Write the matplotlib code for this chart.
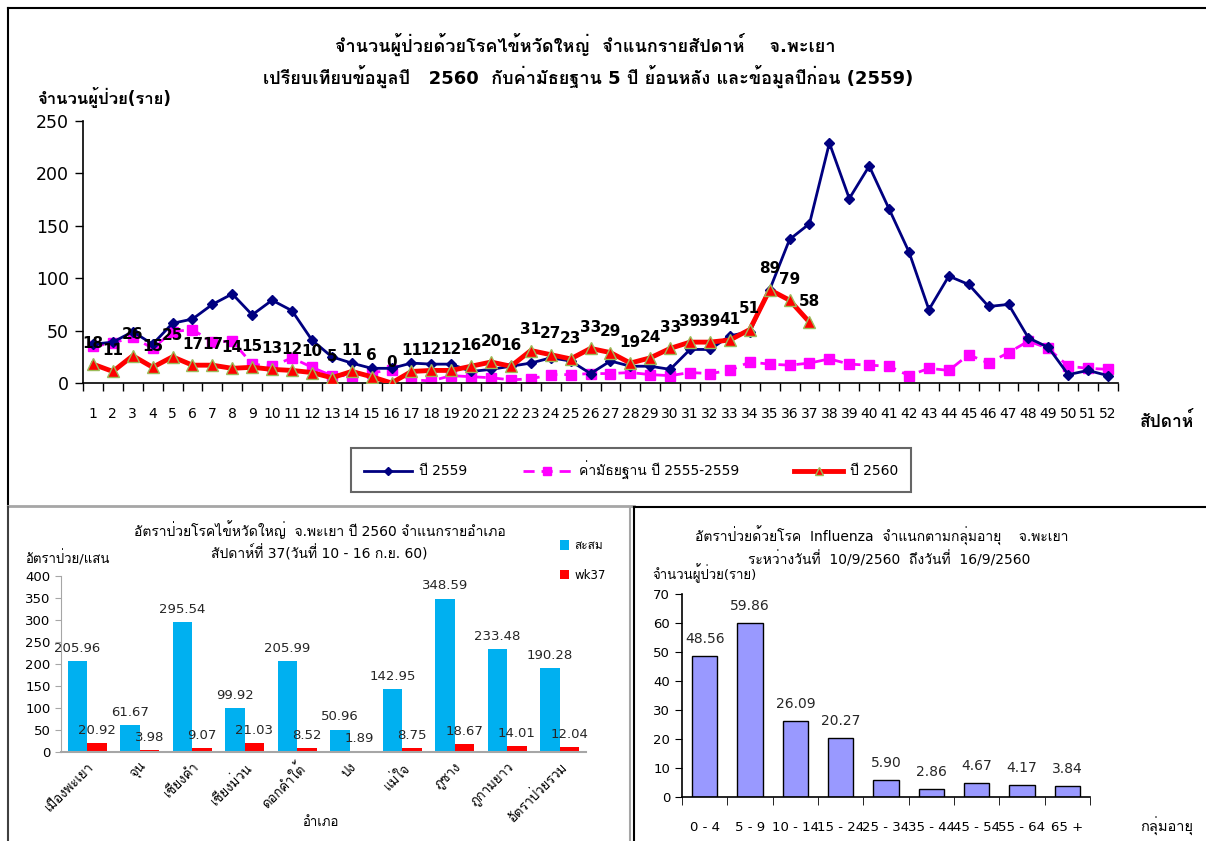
import matplotlib
matplotlib.use('Agg')
import matplotlib.pyplot as plt
from matplotlib.lines import Line2D
import numpy as np

plt.rcParams['font.family'] = ['DejaVu Sans', 'Loma']

# --- top chart: weekly cases ---
weeks = list(range(1, 53))
y2559 = [37, 39, 49, 37, 57, 61, 75, 85, 65, 79, 69, 41, 25, 19, 14, 14,
         19, 18, 18, 11, 13, 16, 19, 24, 21, 9, 21, 16, 16, 13, 32, 32, 45, 49, 89, 137,
         152, 229, 176, 207, 166, 125, 70, 102, 94, 73, 75, 43, 34, 8, 12, 7]
median = [35, 38, 44, 33, 49, 51, 39, 40, 18, 16, 24, 15, 7, 7, 10, 12,
          3, 2, 7, 6, 5, 3, 4, 8, 8, 9, 9, 10, 8, 7, 10, 9, 12, 20, 18, 17,
          19, 23, 18, 17, 16, 7, 14, 12, 27, 19, 29, 40, 33, 16, 14, 13]
y2560 = [18, 11, 26, 15, 25, 17, 17, 14, 15, 13, 12, 10, 5, 11, 6, 0,
         11, 12, 12, 16, 20, 16, 31, 27, 23, 33, 29, 19, 24, 33, 39, 39, 41, 51, 89, 79, 58]

# --- bottom left: rate by district ---
districts = ['เมืองพะเยา', 'จุน', 'เชียงคำ', 'เชียงม่วน', 'ดอกคำใต้', 'ปง', 'แม่ใจ',
             'ภูซาง', 'ภูกามยาว', 'อัตราป่วยรวม']
cumulative = [205.96, 61.67, 295.54, 99.92, 205.99, 50.96, 142.95, 348.59, 233.48, 190.28]
wk37 = [20.92, 3.98, 9.07, 21.03, 8.52, 1.89, 8.75, 18.67, 14.01, 12.04]

# --- bottom right: by age group ---
age_groups = ['0 - 4', '5 - 9', '10 - 14', '15 - 24', '25 - 34', '35 - 44', '45 - 54', '55 - 64', '65 +']
age_rate = [48.56, 59.86, 26.09, 20.27, 5.90, 2.86, 4.67, 4.17, 3.84]

W, H = 1206, 841
fig = plt.figure(figsize=(W / 100, H / 100), dpi=100)


def fx(px):
    return px / W


def fy(py):
    return 1 - py / H


def box(x0, y0, x1, y1):
    return [fx(x0), fy(y1), fx(x1) - fx(x0), fy(y0) - fy(y1)]


# panel borders
def hline(y, x0, x1, c='black', lw=1.5):
    fig.add_artist(Line2D([fx(x0), fx(x1)], [fy(y), fy(y)], color=c, lw=lw))


def vline(x, y0, y1, c='black', lw=1.5):
    fig.add_artist(Line2D([fx(x), fx(x)], [fy(y0), fy(y1)], color=c, lw=lw))


hline(8, 8, 1206)
vline(8, 8, 506)
hline(506, 8, 634, c='#a6a6a6', lw=2)
hline(507, 634, 1206)
vline(8, 507, 841, c='#404040')
vline(630, 507, 841, c='#a6a6a6')
vline(634, 507, 841)

# ================= top chart =================
ax = fig.add_axes(box(83, 121, 1118, 383))
ax.plot(weeks, y2559, color='#000080', lw=2, marker='D', ms=5, label='ปี 2559', zorder=3)
ax.plot(weeks, median, color='#ff00ff', lw=2, ls=(0, (4, 2.5)), marker='s', ms=7,
        label='ค่ามัธยฐาน ปี 2555-2559', zorder=2)
ax.plot(weeks[:len(y2560)], y2560, color='#ff0000', lw=3.5, marker='^', ms=8,
        markerfacecolor='#ff0000', markeredgecolor='#9bbb59', markeredgewidth=1,
        label='ปี 2560', zorder=4)
for w, v in zip(weeks, y2560):
    ax.annotate(str(v), (w, v), xytext=(0, 15), textcoords='offset points',
                ha='center', va='center', fontsize=11, fontweight='bold', zorder=5)

ax.set_xlim(0.5, 52.5)
ax.set_ylim(0, 250)
ax.set_yticks(range(0, 251, 50))
ax.set_xticks(weeks)
ax.set_xticks(np.arange(0.5, 53, 1), minor=True)
ax.tick_params(axis='x', which='major', length=0, pad=17, labelsize=10)
ax.tick_params(axis='x', which='minor', length=6, direction='out', width=1)
ax.tick_params(axis='y', length=6, width=1, labelsize=12.5, pad=4)
for s in ['top', 'right']:
    ax.spines[s].set_visible(False)
ax.spines['left'].set_linewidth(1.2)
ax.spines['bottom'].set_linewidth(1.2)

fig.text(fx(585), fy(44), 'จำนวนผู้ป่วยด้วยโรคไข้หวัดใหญ่  จำแนกรายสัปดาห์    จ.พะเยา',
         ha='center', va='center', fontsize=13, fontweight='bold')
fig.text(fx(588), fy(76), 'เปรียบเทียบข้อมูลปี   2560  กับค่ามัธยฐาน 5 ปี ย้อนหลัง และข้อมูลปีก่อน (2559)',
         ha='center', va='center', fontsize=13, fontweight='bold')
fig.text(fx(37), fy(97), 'จำนวนผู้ป่วย(ราย)', ha='left', va='center', fontsize=12, fontweight='bold')
fig.text(fx(1140), fy(422), 'สัปดาห์', ha='left', va='center', fontsize=12.5, fontweight='bold')

leg = fig.legend(loc='center', bbox_to_anchor=(fx(631), fy(470)), ncol=3, fontsize=10,
                 frameon=True, fancybox=False, numpoints=1, handlelength=3.5,
                 columnspacing=4, borderpad=0.9, handletextpad=0.5, markerscale=0.8)
leg.get_frame().set_edgecolor('#404040')
leg.get_frame().set_linewidth(1.5)

# ================= bottom left =================
ax2 = fig.add_axes(box(61, 576, 586, 752))
x = np.arange(len(districts))
bw = 0.37
ax2.bar(x - bw / 2, cumulative, bw, color='#00b0f0', label='สะสม')
ax2.bar(x + bw / 2, wk37, bw, color='#ff0000', label='wk37')
for i, (a, b) in enumerate(zip(cumulative, wk37)):
    ax2.text(i - bw / 2, a + 14, f'{a:.2f}', ha='center', va='bottom', fontsize=9.5, color='#262626')
    ax2.text(i + bw / 2, b + 14, f'{b:.2f}', ha='center', va='bottom', fontsize=9.5, color='#262626')
ax2.set_xlim(-0.5, len(districts) - 0.5)
ax2.set_ylim(0, 400)
ax2.set_yticks(range(0, 401, 50))
ax2.set_xticks(x)
ax2.set_xticklabels(districts, rotation=45, ha='right', rotation_mode='anchor', fontsize=9.5)
ax2.tick_params(axis='x', length=0, pad=6)
ax2.tick_params(axis='y', length=4, color='#a6a6a6', labelsize=9.5)
for s in ['top', 'right']:
    ax2.spines[s].set_visible(False)
ax2.spines['left'].set_color('#a6a6a6')
ax2.spines['bottom'].set_color('#a6a6a6')
ax2.spines['bottom'].set_linewidth(1.5)
ax2.legend(loc='upper left', bbox_to_anchor=(0.93, 1.27), frameon=False, fontsize=8.5,
           handlelength=0.8, handleheight=0.8, labelspacing=1.4, handletextpad=0.4)
fig.text(fx(320), fy(530), 'อัตราป่วยโรคไข้หวัดใหญ่  จ.พะเยา ปี 2560 จำแนกรายอำเภอ',
         ha='center', va='center', fontsize=10)
fig.text(fx(319), fy(553), 'สัปดาห์ที่ 37(วันที่ 10 - 16 ก.ย. 60)', ha='center', va='center', fontsize=10)
fig.text(fx(25), fy(558), 'อัตราป่วย/แสน', ha='left', va='center', fontsize=9.5)
fig.text(fx(320), fy(822), 'อำเภอ', ha='center', va='center', fontsize=9.5)

# ================= bottom right =================
ax3 = fig.add_axes(box(682, 594, 1090, 797))
xa = np.arange(len(age_groups))
ax3.bar(xa, age_rate, 0.56, color='#9999ff', edgecolor='black', linewidth=1)
for i, v in enumerate(age_rate):
    ax3.text(i, v + 3.5, f'{v:.2f}', ha='center', va='bottom', fontsize=10, color='#262626')
ax3.set_xlim(-0.5, len(age_groups) - 0.5)
ax3.set_ylim(0, 70)
ax3.set_yticks(range(0, 71, 10))
ax3.set_xticks(xa)
ax3.set_xticklabels(age_groups, fontsize=9.5)
ax3.set_xticks(np.arange(-0.5, len(age_groups), 1), minor=True)
ax3.tick_params(axis='x', which='major', length=0, pad=17)
ax3.tick_params(axis='x', which='minor', length=6, direction='out')
ax3.tick_params(axis='y', length=5, labelsize=9.5)
for s in ['top', 'right']:
    ax3.spines[s].set_visible(False)
ax3.spines['left'].set_linewidth(1.2)
ax3.spines['bottom'].set_linewidth(1.2)
fig.text(fx(882), fy(536), 'อัตราป่วยด้วยโรค  Influenza  จำแนกตามกลุ่มอายุ    จ.พะเยา',
         ha='center', va='center', fontsize=10)
fig.text(fx(889), fy(559), 'ระหว่างวันที่  10/9/2560  ถึงวันที่  16/9/2560', ha='center', va='center', fontsize=10)
fig.text(fx(652), fy(573), 'จำนวนผู้ป่วย(ราย)', ha='left', va='center', fontsize=9.5)
fig.text(fx(1140), fy(826), 'กลุ่มอายุ', ha='left', va='center', fontsize=10.5)

fig.savefig('out.png', dpi=100)
